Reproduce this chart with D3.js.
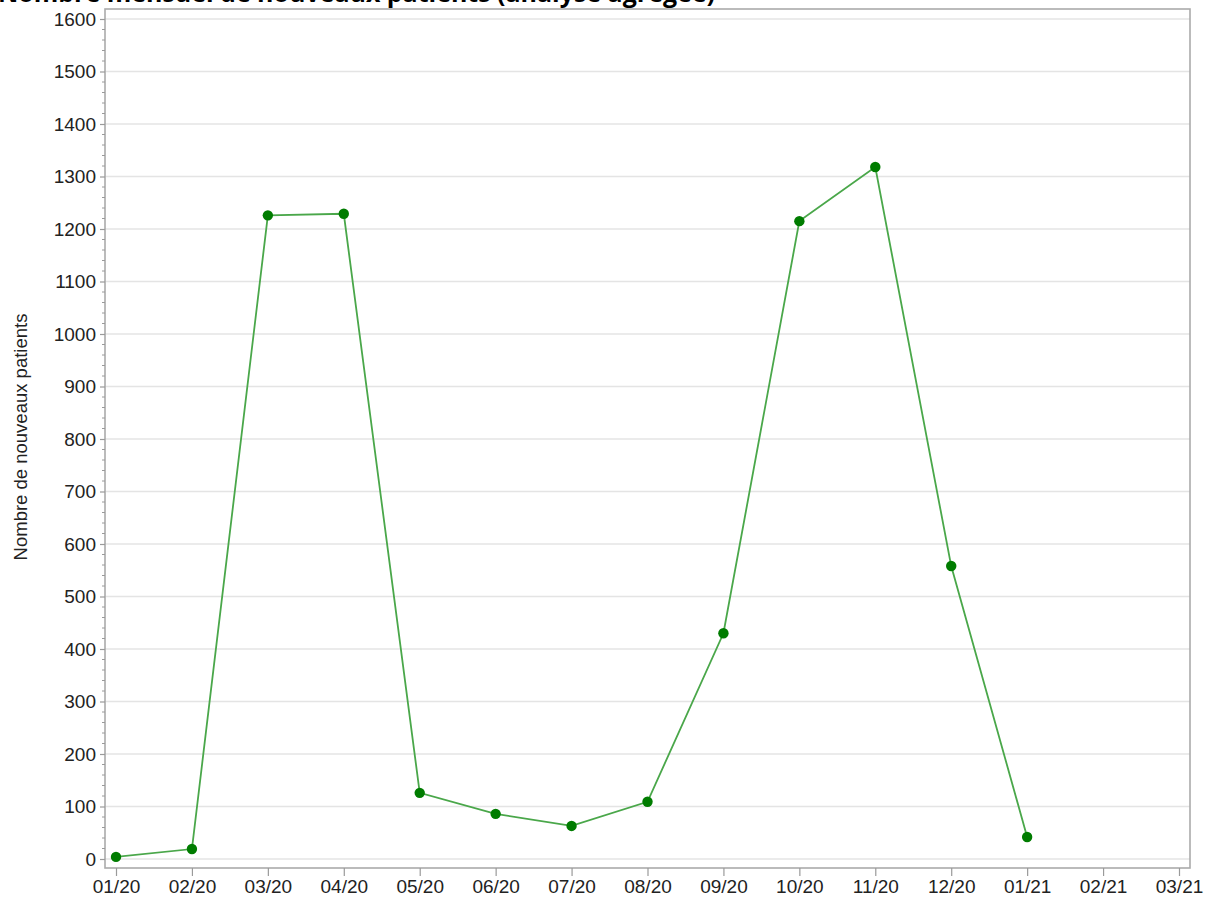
<!DOCTYPE html>
<html><head><meta charset="utf-8">
<script src="https://cdn.jsdelivr.net/npm/d3@7"></script>
<style>body{margin:0;background:#fff}svg{display:block}</style>
</head><body>
<svg id="c" width="1212" height="906"></svg>
<script>
const months = ["01/20","02/20","03/20","04/20","05/20","06/20","07/20","08/20","09/20","10/20","11/20","12/20","01/21","02/21","03/21"];
const patients = [4,19,1226,1229,126,86,63,109,430,1215,1318,558,42];
const yTicks = [0,100,200,300,400,500,600,700,800,900,1000,1100,1200,1300,1400,1500,1600];
const title = "Nombre mensuel de nouveaux patients (analyse agrégée)";
const yLabel = "Nombre de nouveaux patients";

const svg = d3.select("#c");
const frame = {l:105, r:1190, t:9, b:868};
const x = d3.scaleLinear().domain([0, months.length-1]).range([116, 1179]);
const y = d3.scaleLinear().domain([0,1600]).range([859, 19]);
const font = "'Liberation Sans', Arial, sans-serif";

// title (clipped at top as in reference)
svg.append("text").attr("x", -2).attr("y", 2)
  .attr("font-family", "'Open Sans', 'Liberation Sans', sans-serif").attr("font-weight", "bold")
  .attr("font-size", 25).attr("fill", "#000").attr("textLength", 717)
  .attr("lengthAdjust", "spacingAndGlyphs").text(title);

// gridlines
svg.append("g").selectAll("line").data(yTicks).join("line")
  .attr("x1", frame.l).attr("x2", frame.r)
  .attr("y1", d => y(d)).attr("y2", d => y(d))
  .attr("stroke", "#e4e4e4").attr("stroke-width", 1.5);

// frame
svg.append("rect").attr("x", frame.l).attr("y", frame.t)
  .attr("width", frame.r - frame.l).attr("height", frame.b - frame.t)
  .attr("fill", "none").attr("stroke", "#ababab").attr("stroke-width", 1.6);

// y axis
const yAxis = d3.axisLeft(y).tickValues(yTicks).tickSize(5).tickPadding(4).tickFormat(d3.format("d"));
const gy = svg.append("g").attr("transform", `translate(${frame.l},0)`).call(yAxis);
gy.select(".domain").remove();
gy.selectAll(".tick line").attr("stroke", "#9a9a9a").attr("stroke-width", 1.2);
gy.selectAll(".tick text").attr("font-family", font).attr("font-size", 19).attr("fill", "#222");
// minor ticks
const minor = d3.range(0, 1601, 20).filter(v => v % 100 !== 0);
svg.append("g").selectAll("line").data(minor).join("line")
  .attr("x1", frame.l - 3).attr("x2", frame.l)
  .attr("y1", d => y(d)).attr("y2", d => y(d))
  .attr("stroke", "#9a9a9a").attr("stroke-width", 1);

// x axis
const xAxis = d3.axisBottom(x).tickValues(d3.range(months.length)).tickSize(8).tickPadding(4)
  .tickFormat(i => months[i]);
const gx = svg.append("g").attr("transform", `translate(0,${frame.b})`).call(xAxis);
gx.select(".domain").remove();
gx.selectAll(".tick line").attr("stroke", "#9a9a9a").attr("stroke-width", 1.2);
gx.selectAll(".tick text").attr("font-family", font).attr("font-size", 19).attr("fill", "#222");

// y label
svg.append("text").attr("transform", `translate(27,437) rotate(-90)`)
  .attr("text-anchor", "middle").attr("font-family", font).attr("font-size", 18.5)
  .attr("fill", "#222").text(yLabel);

// line
const line = d3.line().x((d,i) => x(i)).y(d => y(d));
svg.append("path").datum(patients).attr("d", line)
  .attr("fill", "none").attr("stroke", "#4aa74a").attr("stroke-width", 1.8);
svg.append("g").selectAll("circle").data(patients).join("circle")
  .attr("cx", (d,i) => x(i)).attr("cy", d => y(d)).attr("r", 5.2)
  .attr("fill", "#007c00");
</script>
</body></html>
